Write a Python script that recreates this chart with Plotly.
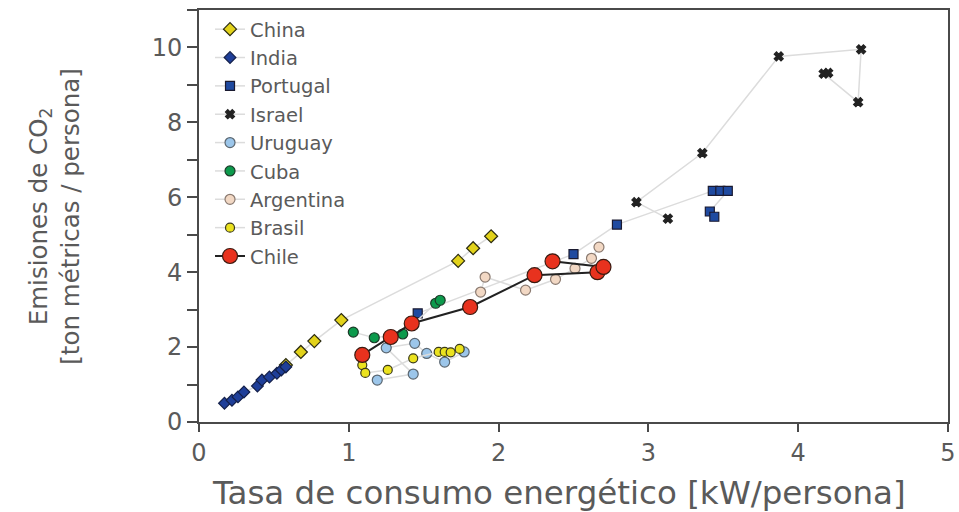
import plotly.graph_objects as go

# Energy use per person (kW) and CO2 emissions per person (t) by country
china_x = [0.58, 0.68, 0.77, 0.95, 1.73, 1.83, 1.95]
china_y = [1.52, 1.87, 2.16, 2.72, 4.30, 4.64, 4.96]

india_x = [0.17, 0.22, 0.26, 0.30, 0.39, 0.42, 0.47, 0.52, 0.55, 0.58]
india_y = [0.50, 0.58, 0.67, 0.80, 0.96, 1.12, 1.20, 1.30, 1.39, 1.47]

portugal_x = [1.46, 2.50, 2.79, 3.43, 3.48, 3.53, 3.41, 3.44]
portugal_y = [2.90, 4.48, 5.27, 6.17, 6.17, 6.17, 5.62, 5.48]

israel_x = [3.13, 2.92, 3.36, 3.87, 4.42, 4.40, 4.17, 4.20]
israel_y = [5.43, 5.87, 7.18, 9.76, 9.95, 8.54, 9.30, 9.32]

uruguay_x = [1.19, 1.43, 1.25, 1.44, 1.52, 1.64, 1.77]
uruguay_y = [1.12, 1.28, 1.98, 2.10, 1.83, 1.60, 1.87]

cuba_x = [1.03, 1.17, 1.36, 1.58, 1.61]
cuba_y = [2.40, 2.25, 2.35, 3.17, 3.25]

argentina_x = [1.88, 1.91, 2.18, 2.38, 2.51, 2.62, 2.67]
argentina_y = [3.47, 3.87, 3.52, 3.81, 4.10, 4.37, 4.67]

brasil_x = [1.09, 1.11, 1.26, 1.43, 1.60, 1.64, 1.68, 1.74]
brasil_y = [1.52, 1.31, 1.39, 1.70, 1.87, 1.87, 1.86, 1.95]

chile_x = [1.09, 1.28, 1.42, 1.81, 2.24, 2.66, 2.70, 2.36]
chile_y = [1.79, 2.27, 2.63, 3.07, 3.92, 4.00, 4.14, 4.29]

x_ticks = [0, 1, 2, 3, 4, 5]
y_ticks = [0, 2, 4, 6, 8, 10]

FONT = "DejaVu Sans"
TEXT = "#5a5a5a"
AXIS = "#4a4a4a"
TRAIL = "#dcdcdc"

series = [
    ("China", china_x, china_y, "diamond", "#e2d21a", "#2a2a10", 10),
    ("India", india_x, india_y, "diamond", "#1f3f99", "#14204a", 9),
    ("Portugal", portugal_x, portugal_y, "square", "#1f4aa0", "#1a1a30", 9),
    ("Israel", israel_x, israel_y, "x", "#222222", "#222222", 8),
    ("Uruguay", uruguay_x, uruguay_y, "circle", "#9cc6ea", "#5a6670", 10),
    ("Cuba", cuba_x, cuba_y, "circle", "#0c9a4c", "#1c3a28", 10),
    ("Argentina", argentina_x, argentina_y, "circle", "#f2d8c4", "#8a7a70", 10),
    ("Brasil", brasil_x, brasil_y, "circle", "#ebe21e", "#3a3a1a", 9),
]

fig = go.Figure()

for name, xs, ys, sym, fill, edge, size in series:
    fig.add_trace(go.Scatter(
        x=xs, y=ys, name=name, mode="lines+markers",
        line=dict(color=TRAIL, width=1.5),
        marker=dict(symbol=sym, color=fill, size=size,
                    line=dict(color=edge, width=1.2)),
    ))

fig.add_trace(go.Scatter(
    x=chile_x, y=chile_y, name="Chile", mode="lines+markers",
    line=dict(color="#222222", width=2),
    marker=dict(symbol="circle", color="#e8321e", size=15,
                line=dict(color="#3a1a10", width=1.2)),
))

fig.update_xaxes(
    range=[0, 5], tickvals=x_ticks, ticks="outside", ticklen=8,
    tickwidth=2, tickcolor=AXIS, showline=True, linewidth=2,
    linecolor=AXIS, mirror=True, showgrid=False, zeroline=False,
    tickfont=dict(family=FONT, size=24, color=TEXT),
    ticklabeloverflow="allow", automargin=False,
)
fig.update_yaxes(
    range=[0, 11], tickvals=y_ticks, ticks="outside", ticklen=10,
    tickwidth=2, tickcolor=AXIS, showline=True, linewidth=2,
    linecolor=AXIS, mirror=True, showgrid=False, zeroline=False,
    tickfont=dict(family=FONT, size=24, color=TEXT), automargin=False,
    minor=dict(dtick=1, tick0=1, ticks="outside", ticklen=10,
               tickwidth=2, tickcolor=AXIS, showgrid=False),
)

fig.add_annotation(
    text="Tasa de consumo energético [kW/persona]",
    xref="paper", yref="paper", x=0.481, y=-0.172,
    xanchor="center", yanchor="middle", showarrow=False,
    font=dict(family=FONT, size=32.5, color=TEXT),
)
fig.add_annotation(
    text="Emisiones de CO<sub>2</sub><br>[ton métricas / persona]",
    xref="paper", yref="paper", x=-0.194, y=0.5, textangle=-90,
    xanchor="center", yanchor="middle", showarrow=False,
    font=dict(family=FONT, size=24.5, color=TEXT),
)

fig.update_layout(
    width=959, height=512,
    margin=dict(l=199, r=11, t=10, b=90, autoexpand=False),
    paper_bgcolor="white", plot_bgcolor="white",
    showlegend=True,
    legend=dict(
        x=0.0147, y=1, xanchor="left", yanchor="top",
        bgcolor="rgba(0,0,0,0)", borderwidth=0,
        font=dict(family=FONT, size=19.5, color=TEXT),
        tracegroupgap=0,
    ),
)

fig.write_html("out.html")
